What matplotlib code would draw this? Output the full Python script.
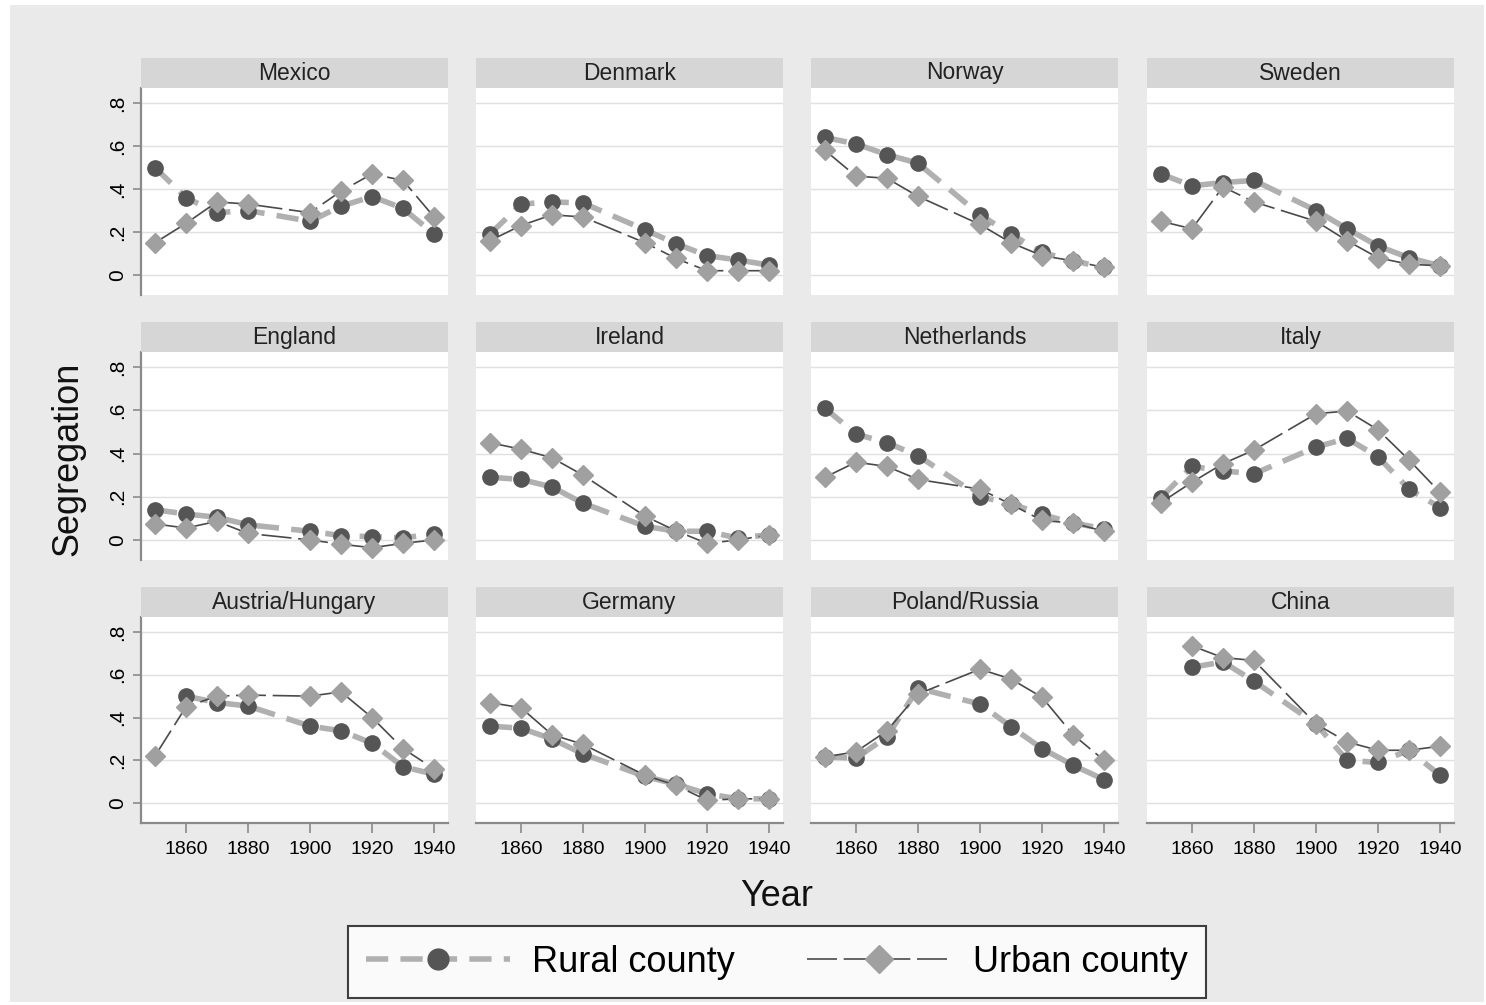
import numpy as np
import matplotlib
matplotlib.use("Agg")
import matplotlib.pyplot as plt
from matplotlib.patches import Rectangle
from matplotlib.lines import Line2D

plt.rcParams['font.family'] = ['Liberation Sans', 'DejaVu Sans']

nan = np.nan
years = [1850, 1860, 1870, 1880, 1900, 1910, 1920, 1930, 1940]
countries = ["Mexico", "Denmark", "Norway", "Sweden",
             "England", "Ireland", "Netherlands", "Italy",
             "Austria/Hungary", "Germany", "Poland/Russia", "China"]

rural_mexico = [0.50, 0.36, 0.29, 0.30, 0.25, 0.32, 0.365, 0.31, 0.19]
urban_mexico = [0.15, 0.24, 0.34, 0.33, 0.29, 0.39, 0.47, 0.44, 0.27]
rural_denmark = [0.19, 0.33, 0.34, 0.335, 0.21, 0.146, 0.09, 0.07, 0.046]
urban_denmark = [0.16, 0.23, 0.28, 0.27, 0.15, 0.077, 0.02, 0.02, 0.02]
rural_norway = [0.64, 0.61, 0.56, 0.52, 0.28, 0.19, 0.105, 0.066, 0.035]
urban_norway = [0.58, 0.46, 0.45, 0.366, 0.235, 0.15, 0.09, 0.066, 0.035]
rural_sweden = [0.47, 0.415, 0.43, 0.44, 0.30, 0.215, 0.135, 0.08, 0.043]
urban_sweden = [0.25, 0.215, 0.41, 0.34, 0.25, 0.16, 0.08, 0.05, 0.043]
rural_england = [0.14, 0.12, 0.105, 0.07, 0.04, 0.02, 0.015, 0.01, 0.027]
urban_england = [0.074, 0.055, 0.086, 0.03, 0.0, -0.02, -0.036, -0.016, 0.0]
rural_ireland = [0.29, 0.28, 0.245, 0.17, 0.063, 0.04, 0.04, 0.008, 0.024]
urban_ireland = [0.45, 0.42, 0.38, 0.30, 0.11, 0.042, -0.016, 0.0, 0.024]
rural_netherlands = [0.61, 0.49, 0.45, 0.39, 0.20, 0.168, 0.118, 0.078, 0.052]
urban_netherlands = [0.29, 0.36, 0.34, 0.28, 0.235, 0.165, 0.09, 0.078, 0.04]
rural_italy = [0.196, 0.34, 0.32, 0.306, 0.43, 0.47, 0.385, 0.235, 0.15]
urban_italy = [0.173, 0.267, 0.353, 0.416, 0.584, 0.597, 0.51, 0.37, 0.22]
rural_austria = [nan, 0.50, 0.47, 0.454, 0.36, 0.338, 0.28, 0.17, 0.135]
urban_austria = [0.22, 0.45, 0.50, 0.505, 0.50, 0.52, 0.40, 0.255, 0.16]
rural_germany = [0.36, 0.35, 0.30, 0.23, 0.125, 0.088, 0.044, 0.02, 0.02]
urban_germany = [0.47, 0.446, 0.32, 0.275, 0.13, 0.083, 0.013, 0.02, 0.02]
rural_poland = [0.216, 0.21, 0.31, 0.537, 0.463, 0.357, 0.255, 0.177, 0.11]
urban_poland = [0.216, 0.24, 0.338, 0.51, 0.626, 0.58, 0.495, 0.32, 0.20]
rural_china = [nan, 0.635, 0.66, 0.57, 0.37, 0.20, 0.19, 0.247, 0.13]
urban_china = [nan, 0.735, 0.68, 0.667, 0.37, 0.286, 0.247, 0.247, 0.266]

rural = [rural_mexico, rural_denmark, rural_norway, rural_sweden,
         rural_england, rural_ireland, rural_netherlands, rural_italy,
         rural_austria, rural_germany, rural_poland, rural_china]
urban = [urban_mexico, urban_denmark, urban_norway, urban_sweden,
         urban_england, urban_ireland, urban_netherlands, urban_italy,
         urban_austria, urban_germany, urban_poland, urban_china]

yticks = [0, 0.2, 0.4, 0.6, 0.8]
ytick_labels = ["0", ".2", ".4", ".6", ".8"]
xticks = [1860, 1880, 1900, 1920, 1940]
xtick_labels = ["1860", "1880", "1900", "1920", "1940"]

W, H = 1486, 1005
fig = plt.figure(figsize=(W / 100, H / 100), dpi=100)
fig.patch.set_facecolor("white")
fig.patches.append(Rectangle((10 / W, 3 / H), 1474 / W, 997 / H, transform=fig.transFigure,
                             facecolor="#eaeaea", edgecolor="none", zorder=-10))

col_left = [141, 476, 811, 1147]
pw = 307
rows = [(88, 295), (352, 560), (617, 823)]
strip_h = 30

rural_line_c = "#b0b0b0"
rural_mark_c = "#555555"
urban_line_c = "#4a4a4a"
urban_mark_c = "#a0a0a0"
rural_ls = (0, (4, 2.2))
urban_ls = (0, (18, 4))

for i, name in enumerate(countries):
    r, c = divmod(i, 4)
    top, bot = rows[r]
    left = col_left[c]
    ax = fig.add_axes([left / W, 1 - bot / H, pw / W, (bot - top) / H])
    ax.set_facecolor("white")
    ax.set_xlim(1845.5, 1944.5)
    ax.set_ylim(-0.093, 0.87)
    for y in yticks:
        ax.axhline(y, color="#e0e0e0", lw=1.0, zorder=0)
    yr = np.array(years, dtype=float)
    rv = np.array(rural[i], dtype=float)
    uv = np.array(urban[i], dtype=float)
    mr = ~np.isnan(rv)
    mu = ~np.isnan(uv)
    ax.plot(yr[mr], rv[mr], color=rural_line_c, lw=4, linestyle=rural_ls,
            marker="o", markersize=11, markerfacecolor=rural_mark_c,
            markeredgecolor=rural_mark_c, zorder=3)
    ax.plot(yr[mu], uv[mu], color=urban_line_c, lw=1.2, linestyle=urban_ls,
            marker="D", markersize=10.5, markerfacecolor=urban_mark_c,
            markeredgecolor=urban_mark_c, zorder=4)
    for s in ["top", "right"]:
        ax.spines[s].set_visible(False)
    ax.spines["left"].set_visible(c == 0)
    ax.spines["bottom"].set_visible(r == 2)
    ax.spines["left"].set_color("#8a8a8a")
    ax.spines["left"].set_linewidth(1.6)
    ax.spines["bottom"].set_color("#8a8a8a")
    ax.spines["bottom"].set_linewidth(1.6)
    if c == 0:
        ax.set_yticks(yticks)
        ax.set_yticklabels(ytick_labels, rotation=90, va="center", fontsize=15)
        ax.tick_params(axis="y", length=6, width=1.2, color="#8a8a8a", pad=4)
    else:
        ax.set_yticks([])
    if r == 2:
        ax.set_xticks(xticks)
        ax.set_xticklabels(xtick_labels, fontsize=14)
        ax.tick_params(axis="x", length=7, width=1.2, color="#8a8a8a", pad=6)
    else:
        ax.set_xticks([])
    # strip
    sax = fig.add_axes([left / W, 1 - top / H, pw / W, strip_h / H])
    sax.set_facecolor("#d6d6d6")
    sax.set_xticks([])
    sax.set_yticks([])
    for s in sax.spines.values():
        s.set_visible(False)
    sax.text(0.5, 0.5, name, ha="center", va="center", fontsize=16.5,
             color="#222222", transform=sax.transAxes)

fig.text(68 / W, 1 - 459 / H, "Segregation", rotation=90, ha="center", va="center",
         fontsize=26, color="#111111")
fig.text(777 / W, 1 - 896 / H, "Year", ha="center", va="center", fontsize=26,
         color="#111111")

h_rural = Line2D([], [], color=rural_line_c, lw=4, linestyle=rural_ls, marker="o",
                 markersize=15, markerfacecolor=rural_mark_c, markeredgecolor=rural_mark_c)
h_urban = Line2D([], [], color=urban_line_c, lw=1.2, linestyle=urban_ls, marker="D",
                 markersize=14, markerfacecolor=urban_mark_c, markeredgecolor=urban_mark_c)
leg = fig.legend([h_rural, h_urban], ["Rural county", "Urban county"], loc="center",
                 bbox_to_anchor=(777 / W, 1 - 962 / H), ncol=2, fontsize=26,
                 frameon=True, fancybox=False, handlelength=4.0, columnspacing=2.0,
                 handletextpad=0.6, borderpad=0.5, borderaxespad=0)
leg.get_frame().set_edgecolor("#111111")
leg.get_frame().set_linewidth(1.5)
leg.get_frame().set_facecolor("white")

fig.savefig("out.png", dpi=100, facecolor=fig.get_facecolor())
